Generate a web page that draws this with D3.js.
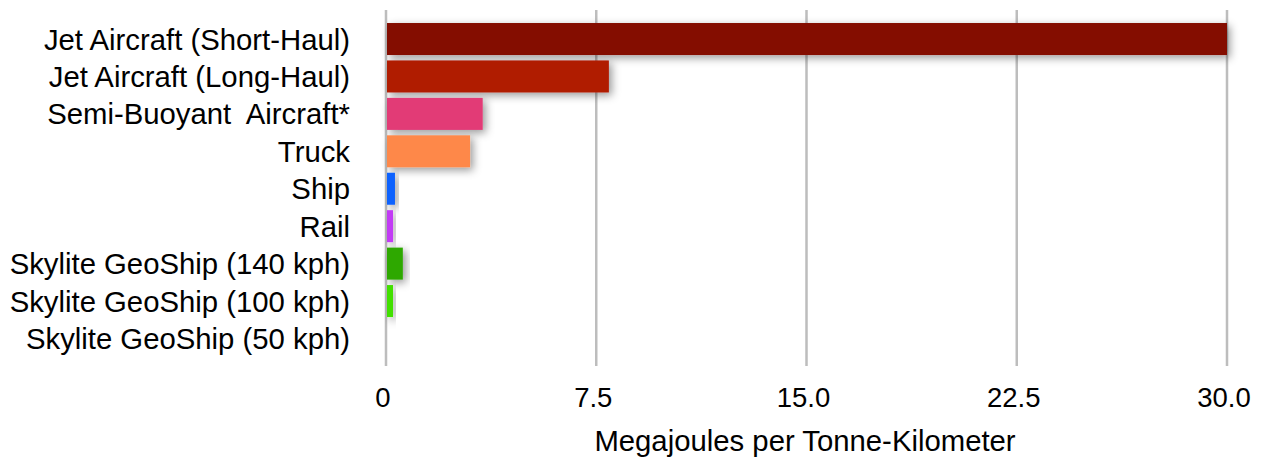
<!DOCTYPE html>
<html>
<head>
<meta charset="utf-8">
<script src="https://cdn.jsdelivr.net/npm/d3@7"></script>
<style>
  html, body { margin: 0; padding: 0; background: #fff; }
  svg { display: block; }
  text { font-family: "Liberation Sans", Arial, Helvetica, sans-serif; fill: #000; white-space: pre; }
</style>
</head>
<body>
<svg id="chart" width="1264" height="460"></svg>
<script>
// ---- data ----
const categories = [
  "Jet Aircraft (Short-Haul)",
  "Jet Aircraft (Long-Haul)",
  "Semi-Buoyant  Aircraft*",
  "Truck",
  "Ship",
  "Rail",
  "Skylite GeoShip (140 kph)",
  "Skylite GeoShip (100 kph)",
  "Skylite GeoShip (50 kph)"
];
const values = [30.0, 7.95, 3.45, 3.0, 0.32, 0.25, 0.6, 0.25, 0.0];
const colors = ["#841100", "#B01A00", "#E23A76", "#FE884A", "#0A62FE", "#C23AF5", "#2EA800", "#43E000", "#43E000"];
const tickValues = [0, 7.5, 15, 22.5, 30];
const tickLabels = ["0", "7.5", "15.0", "22.5", "30.0"];
const axisTitle = "Megajoules per Tonne-Kilometer";

// ---- layout ----
const svg = d3.select("#chart");
const x = d3.scaleLinear().domain([0, 30]).range([386, 1227]);
const y = d3.scaleBand().domain(categories).range([20.3, 357.2])
  .paddingInner(0.145).paddingOuter(0.0725);
const gridTop = 10, gridBottom = 366;

// shadow filter
const defs = svg.append("defs");
const f = defs.append("filter").attr("id", "shadow")
  .attr("x", "-20%").attr("y", "-50%").attr("width", "160%").attr("height", "220%");
f.append("feDropShadow").attr("dx", 3).attr("dy", 3).attr("stdDeviation", 4)
  .attr("flood-color", "#000").attr("flood-opacity", 0.4);

// gridlines
svg.append("g").selectAll("line").data(tickValues).join("line")
  .attr("x1", d => x(d)).attr("x2", d => x(d))
  .attr("y1", gridTop).attr("y2", gridBottom)
  .attr("stroke", "#bdbdbd").attr("stroke-width", 2.5);

// bars
svg.append("g").selectAll("rect").data(values).join("rect")
  .attr("x", x(0) + 1)
  .attr("y", (d, i) => y(categories[i]))
  .attr("width", d => Math.max(0, x(d) - x(0) - 1))
  .attr("height", y.bandwidth())
  .attr("fill", (d, i) => colors[i])
  .attr("filter", d => d > 0 ? "url(#shadow)" : null);

// category labels
svg.append("g").selectAll("text").data(categories).join("text")
  .attr("x", 350)
  .attr("y", d => y(d) + y.bandwidth() / 2)
  .attr("text-anchor", "end")
  .attr("dominant-baseline", "central")
  .attr("font-size", 29.3)
  .text(d => d);

// tick labels
svg.append("g").selectAll("text").data(tickValues).join("text")
  .attr("x", d => x(d) - 3)
  .attr("y", 406.5)
  .attr("text-anchor", "middle")
  .attr("font-size", 27.5)
  .text((d, i) => tickLabels[i]);

// axis title
svg.append("text")
  .attr("x", 805)
  .attr("y", 451)
  .attr("text-anchor", "middle")
  .attr("font-size", 29.3)
  .text(axisTitle);
</script>
</body>
</html>
